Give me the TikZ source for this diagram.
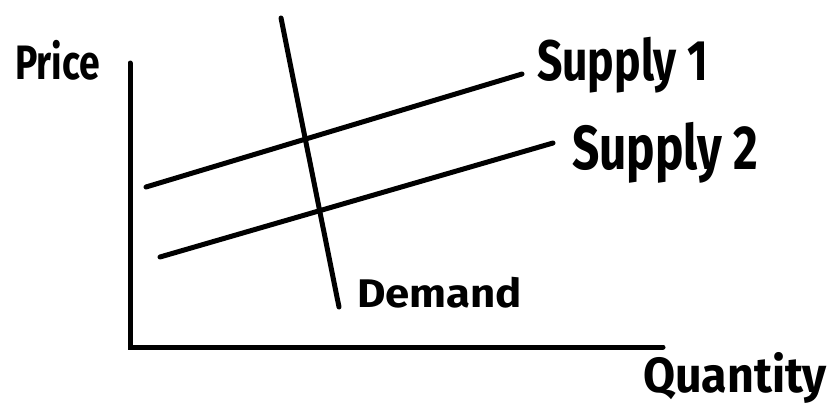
\documentclass[tikz,border=0pt]{standalone}
\usepackage{fontspec}
\usepackage{graphicx}
\setmainfont{Fira Sans}
\newcommand{\hw}[3]{\resizebox*{#1pt}{#2pt}{\bfseries #3}}
\begin{document}
\begin{tikzpicture}[x=1pt,y=-1pt,
  curve/.style={line width=5pt,line cap=round},
  lbl/.style={inner sep=0pt,outer sep=0pt,anchor=north west}]
\useasboundingbox (0,0) rectangle (834,408);
% axes
\coordinate (ytop) at (130,63);
\coordinate (origin) at (130,347);
\coordinate (xend) at (663,347);
\draw[curve] (ytop) -- (origin) -- (xend);
% supply curves
\coordinate (s1a) at (146,187);
\coordinate (s1b) at (522,74);
\coordinate (s2a) at (160,257);
\coordinate (s2b) at (553,143);
\draw[curve] (s1a) -- (s1b);
\draw[curve] (s2a) -- (s2b);
% demand
\coordinate (da) at (281,18);
\coordinate (db) at (339,307);
\draw[curve] (da) -- (db);
% labels
\node[lbl] (price) at (15,40) {\hw{85}{40}{Price}};
\node[lbl] (sup1) at (537,37) {\hw{171}{56}{Supply 1}};
\node[lbl] (sup2) at (572,122) {\hw{186}{61}{Supply 2}};
\node[lbl] (dem) at (357,277) {\hw{165}{31}{Demand}};
\node[lbl] (qty) at (643,352) {\hw{184}{51}{Quantity}};
\end{tikzpicture}
\end{document}
